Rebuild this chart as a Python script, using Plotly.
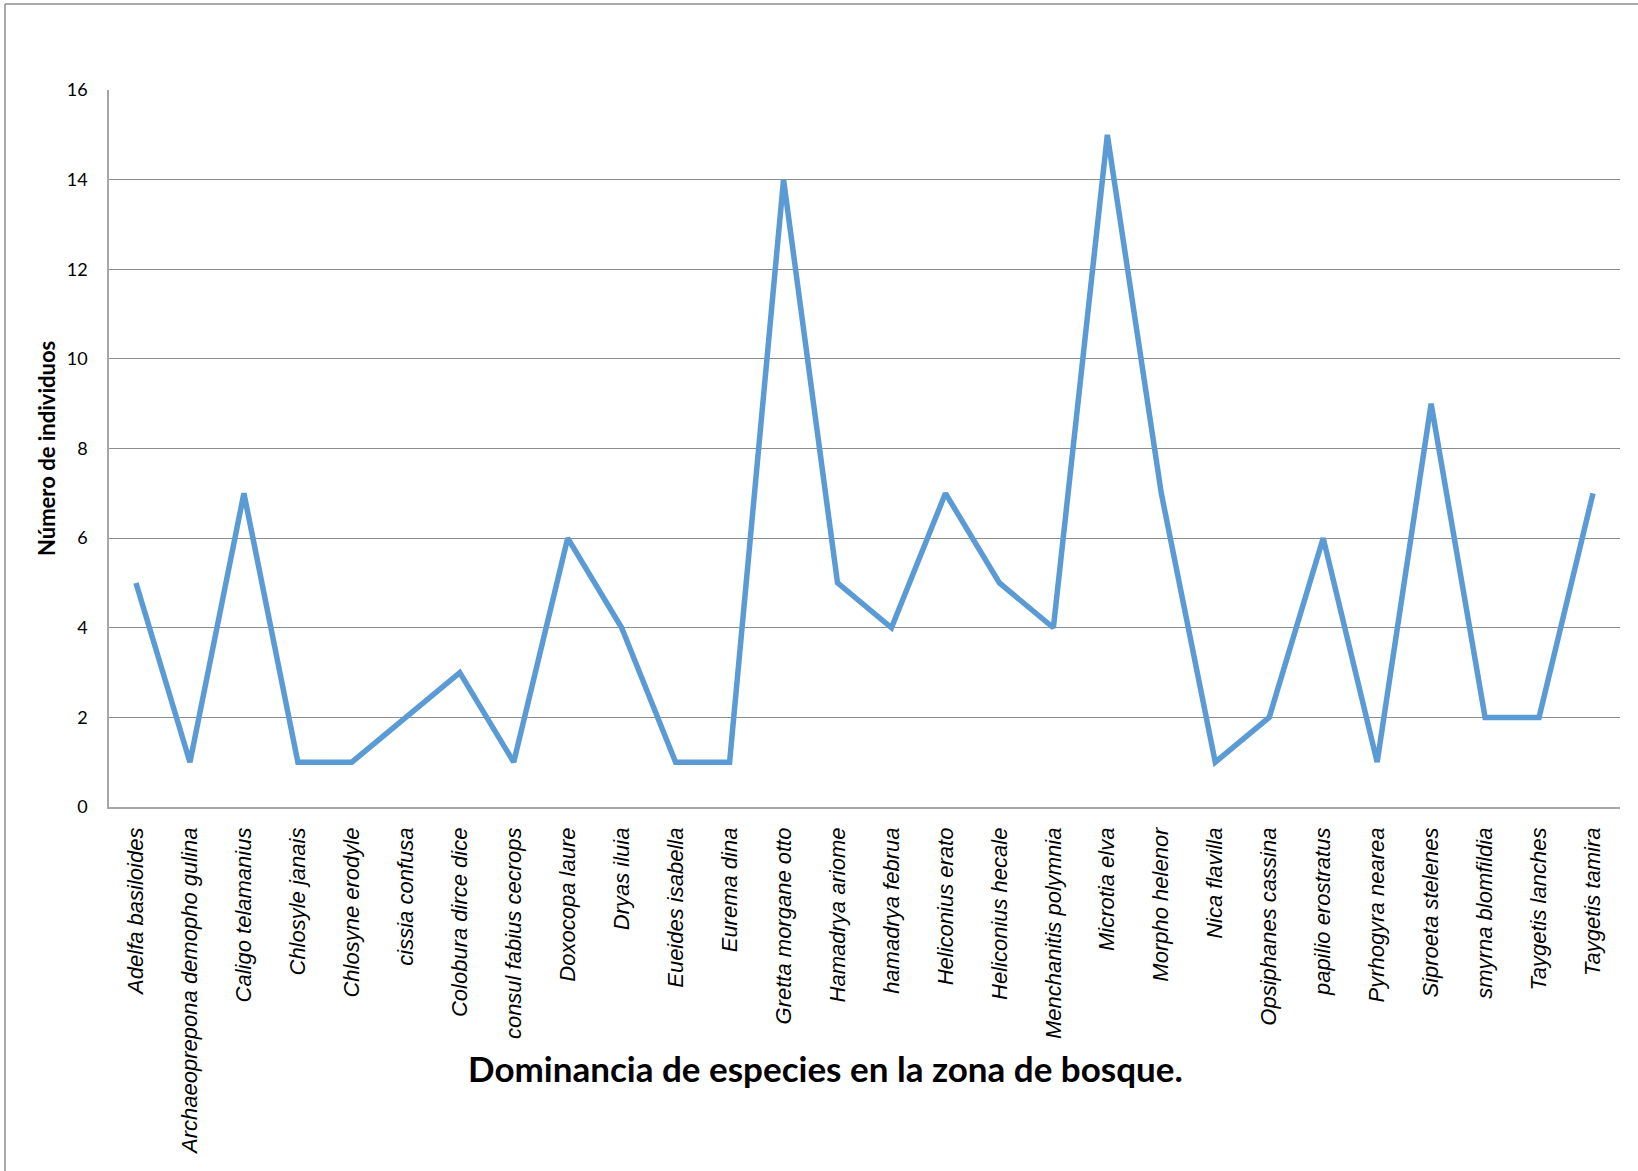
import plotly.graph_objects as go

species = [
    "Adelfa basiloides", "Archaeoprepona demopho gulina", "Caligo telamanius",
    "Chlosyle janais", "Chlosyne erodyle", "cissia confusa", "Colobura dirce dice",
    "consul fabius cecrops", "Doxocopa laure", "Dryas iluia", "Eueides isabella",
    "Eurema dina", "Gretta morgane otto", "Hamadrya ariome", "hamadrya februa",
    "Heliconius erato", "Heliconius hecale", "Menchanitis polymnia", "Microtia elva",
    "Morpho helenor", "Nica flavilla", "Opsiphanes cassina", "papilio erostratus",
    "Pyrhogyra nearea", "Siproeta stelenes", "smyrna blomfildia", "Taygetis lanches",
    "Taygetis tamira",
]
individuos = [5, 1, 7, 1, 1, 2, 3, 1, 6, 4, 1, 1, 14, 5, 4, 7, 5, 4, 15, 7,
              1, 2, 6, 1, 9, 2, 2, 7]
y_ticks = [0, 2, 4, 6, 8, 10, 12, 14, 16]

W, H = 1638, 1171
L, R, T, B = 109, 1620, 90, 807

def px(x):
    return (x - L) / (R - L)

def py(y):
    return (B - y) / (B - T)

fig = go.Figure()
fig.add_trace(go.Scatter(
    x=species, y=individuos, mode="lines",
    line=dict(color="#5B9BD5", width=5.5),
    showlegend=False,
))

fig.update_layout(
    width=W, height=H,
    margin=dict(l=L, r=W - R, t=T, b=H - B),
    paper_bgcolor="white", plot_bgcolor="white",
    xaxis=dict(
        type="category", range=[-0.5, len(species) - 0.5],
        tickangle=-90, showgrid=False, showline=True, linecolor="#A6A6A6",
        linewidth=1.5, ticks="", zeroline=False,
        tickfont=dict(family="Liberation Sans", size=22, color="black"),
        ticklabelstandoff=10,
    ),
    yaxis=dict(
        range=[0, 16], tickvals=y_ticks, showgrid=True, gridcolor="#8C8C8C",
        gridwidth=1, showline=True, linecolor="#A6A6A6", linewidth=1.5,
        zeroline=False, ticks="",
        tickfont=dict(family="Lato", size=18, color="black"),
        ticklabelstandoff=16,
    ),
    font=dict(family="Liberation Sans"),
)

# italic tick labels
fig.update_xaxes(tickvals=species, ticktext=[f"<i>{s}</i>" for s in species])

fig.add_annotation(
    text="<b>Dominancia de especies en la zona de bosque.</b>",
    xref="paper", yref="paper", x=px(825), y=py(1068),
    xanchor="center", yanchor="middle", showarrow=False,
    font=dict(family="Lato", size=35, color="black"),
)
fig.add_annotation(
    text="<b>Número de individuos</b>",
    xref="paper", yref="paper", x=px(47), y=py(449),
    xanchor="center", yanchor="middle", showarrow=False, textangle=-90,
    font=dict(family="Lato", size=22, color="black"),
)

# outer frame lines (top and left)
fig.add_shape(type="line", xref="paper", yref="paper",
              x0=px(5), x1=px(W + 5), y0=py(4), y1=py(4),
              line=dict(color="#8C8C8C", width=1.5))
fig.add_shape(type="line", xref="paper", yref="paper",
              x0=px(5), x1=px(5), y0=py(4), y1=py(H + 5),
              line=dict(color="#8C8C8C", width=1.5))

fig.write_html("out.html", config={"displayModeBar": False},
               post_script="document.body.style.margin='0';")
